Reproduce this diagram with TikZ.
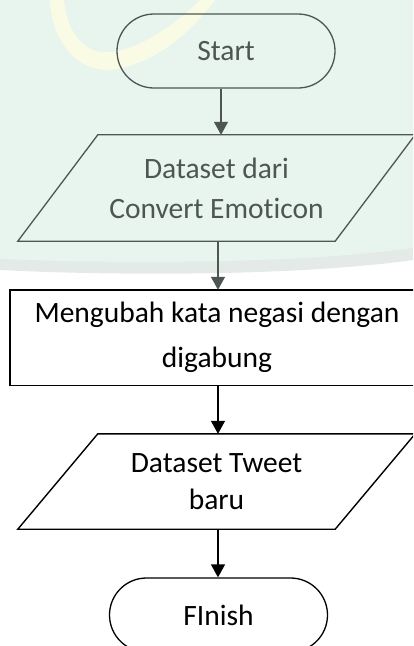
\documentclass[tikz,border=0pt]{standalone}
\usepackage{fontspec}
\setmainfont{Carlito}[Ligatures=NoCommon]
\usetikzlibrary{arrows.meta}
\definecolor{mint}{HTML}{E8F4EE}
\definecolor{mintedge}{HTML}{E4EAE7}
\definecolor{cream}{HTML}{FAFBE4}
\definecolor{fade}{HTML}{4E5652}
\begin{document}
\begin{tikzpicture}[x=1pt,y=-1pt,
  txt/.style={font=\fontsize{29.5}{42}\selectfont, align=center, inner sep=0pt},
  term/.style={txt, draw, line width=1.3pt, rounded corners=37pt,
    minimum width=218pt, minimum height=74pt},
  iobody/.style={txt, minimum height=#1},
  procbody/.style={txt, minimum width=414pt, minimum height=95pt},
  arr/.style={line width=1.4pt, -{Triangle[width=14pt,length=13pt]}},
]
\useasboundingbox (0,0) rectangle (413,646);
\clip (0,0) rectangle (413,646);

% tinted backdrop of the upper half, with its soft lower rim
\fill[mintedge] (0,0) -- (413,0) -- (413,260)
  .. controls (300,276) and (120,276) .. (0,270) -- cycle;
\fill[mint] (0,0) -- (413,0) -- (413,248)
  .. controls (300,264) and (120,264) .. (0,259) -- cycle;
\fill[cream] (50,0) .. controls (52,45) and (80,72) .. (110,70)
  .. controls (150,66) and (190,35) .. (215,0) -- (200,0)
  .. controls (170,30) and (130,55) .. (100,52)
  .. controls (78,48) and (66,25) .. (64,0) -- cycle;

% shapes
\node[term, draw=fade, text=fade] (start) at (226,51) {Start};

\node[iobody=106pt, minimum width=317pt, text=fade] (d1) at (216.5,188)
  {Dataset dari\\[-2pt]Convert Emoticon};
\draw[fade, line width=1.3pt]
  ([xshift=40pt]d1.north west) -- ([xshift=40pt]d1.north east)
  -- ([xshift=-40pt]d1.south east) -- ([xshift=-40pt]d1.south west) -- cycle;

% process box runs off the right edge of the page
\node[procbody] (proc) at (217,337.5)
  {Mengubah kata negasi dengan\\[3pt]digabung};
\draw[line width=1.4pt]
  ([xshift=20pt]proc.north east) -- (proc.north west)
  -- (proc.south west) -- ([xshift=20pt]proc.south east);

\node[iobody=95pt, minimum width=317pt] (d2) at (216.5,481.5)
  {Dataset Tweet\\[-5pt]baru};
\draw[line width=1.4pt]
  ([xshift=40pt]d2.north west) -- ([xshift=40pt]d2.north east)
  -- ([xshift=-40pt]d2.south east) -- ([xshift=-40pt]d2.south west) -- cycle;

\node[term] (finish) at (218.5,615) {FInish};

% connectors
\draw[arr, draw=fade, fill=fade] ([xshift=-5pt]start.south) -- ([xshift=-5pt]start.south |- d1.north);
\draw[arr, draw=fade, fill=fade] ([xshift=1.5pt]d1.south) -- ([xshift=1.5pt]d1.south |- proc.north);
\draw[arr] ([xshift=1pt]proc.south) -- ([xshift=1pt]proc.south |- d2.north);
\draw[arr] ([xshift=1.5pt]d2.south) -- ([xshift=1.5pt]d2.south |- finish.north);
\end{tikzpicture}
\end{document}
